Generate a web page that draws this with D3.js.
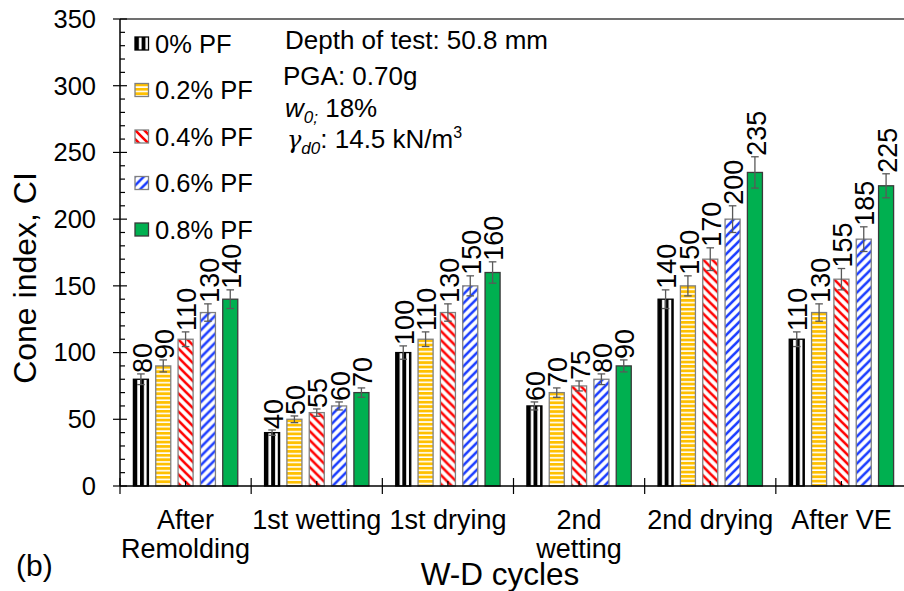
<!DOCTYPE html>
<html><head><meta charset="utf-8">
<script src="https://cdn.jsdelivr.net/npm/d3@7"></script>
<style>
html,body{margin:0;padding:0;background:#fff;}
text{font-family:"Liberation Sans",Arial,sans-serif;}
</style></head>
<body><svg id="c" width="904" height="591"></svg>
<script>
const categories = [["After","Remolding"],["1st wetting"],["1st drying"],["2nd","wetting"],["2nd drying"],["After VE"]];
const seriesNames = ["0% PF","0.2% PF","0.4% PF","0.6% PF","0.8% PF"];
const v0  = [80, 40, 100, 60, 140, 110];
const v02 = [90, 50, 110, 70, 150, 130];
const v04 = [110, 55, 130, 75, 170, 155];
const v06 = [130, 60, 150, 80, 200, 185];
const v08 = [140, 70, 160, 90, 235, 225];
const e0  = [4, 2, 5, 3, 7, 5.5];
const e02 = [4.5, 2.5, 5.5, 3.5, 7.5, 6.5];
const e04 = [5.5, 2.75, 6.5, 3.75, 8.5, 8];
const e06 = [6.5, 3, 7.5, 4, 10, 9.25];
const e08 = [7, 3.5, 8, 4.5, 11.75, 9];
const yTicks = [0,50,100,150,200,250,300,350];

const values = [v0, v02, v04, v06, v08];
const errors = [e0, e02, e04, e06, e08];

const svg = d3.select("#c");
const defs = svg.append("defs");
const L = 120, R = 907, T = 19, B = 486;
const catKeys = categories.map((c,i)=>i);
const x0 = d3.scaleBand().domain(catKeys).range([L, R]).paddingInner(0).paddingOuter(0);
const x1 = d3.scaleBand().domain(d3.range(5)).range([0, x0.bandwidth()]).paddingInner(0.327).paddingOuter(0.6);
const y = d3.scaleLinear().domain([0, 350]).range([B, T]);

function makePattern(id, s, ox, oy) {
  let p;
  if (s === 0) {
    p = defs.append("pattern").attr("id", id).attr("patternUnits","userSpaceOnUse")
      .attr("x", ox).attr("y", 0).attr("width", 6.6).attr("height", 10);
    p.append("rect").attr("width", 6.6).attr("height", 10).attr("fill", "#fff");
    p.append("rect").attr("x", 0).attr("width", 3.9).attr("height", 10).attr("fill", "#000");
  } else if (s === 1) {
    p = defs.append("pattern").attr("id", id).attr("patternUnits","userSpaceOnUse")
      .attr("x", 0).attr("y", oy).attr("width", 10).attr("height", 4.4);
    p.append("rect").attr("width", 10).attr("height", 4.4).attr("fill", "#fff");
    p.append("rect").attr("y", 0).attr("width", 10).attr("height", 2.8).attr("fill", "#FFC000");
  } else if (s === 2) {
    p = defs.append("pattern").attr("id", id).attr("patternUnits","userSpaceOnUse")
      .attr("x", ox).attr("y", oy).attr("width", 9).attr("height", 9);
    p.append("rect").attr("width", 9).attr("height", 9).attr("fill", "#fff");
    p.append("path").attr("d", "M-3,-3L12,12M-3,6L3,12M6,-3L12,3").attr("stroke", "#FF0000").attr("stroke-width", 2.6).attr("fill","none");
  } else if (s === 3) {
    p = defs.append("pattern").attr("id", id).attr("patternUnits","userSpaceOnUse")
      .attr("x", ox).attr("y", oy).attr("width", 9).attr("height", 9);
    p.append("rect").attr("width", 9).attr("height", 9).attr("fill", "#fff");
    p.append("path").attr("d", "M-3,12L12,-3M-3,3L3,-3M6,12L12,6").attr("stroke", "#1A3CFF").attr("stroke-width", 2.6).attr("fill","none");
  }
  return "url(#" + id + ")";
}
const strokes = ["#000", "#808080", "#808080", "#808080", "#3a3a3a"];
function fillFor(s, id, ox, oy) {
  if (s === 4) return "#00B050";
  return makePattern(id, s, ox, oy);
}

svg.append("line").attr("x1", L).attr("x2", 904).attr("y1", T).attr("y2", T)
  .attr("stroke", "#404040").attr("stroke-width", 1.5);

const g = svg.append("g");
catKeys.forEach(ci => {
  d3.range(5).forEach(s => {
    const v = values[s][ci], e = errors[s][ci];
    const bx = x0(ci) + x1(s), bw = x1.bandwidth();
    const by = y(v);
    const f = fillFor(s, "p" + s + "_" + ci, bx, by);
    g.append("rect").attr("x", bx).attr("y", by).attr("width", bw).attr("height", B - by)
      .attr("fill", f).attr("stroke", strokes[s]).attr("stroke-width", 1.3);
    const cx = bx + bw / 2;
    g.append("line").attr("x1", cx).attr("x2", cx).attr("y1", y(v + e)).attr("y2", y(v - e))
      .attr("stroke", "#595959").attr("stroke-width", 1.3);
    [v + e, v - e].forEach(t => {
      g.append("line").attr("x1", cx - 3.8).attr("x2", cx + 3.8).attr("y1", y(t)).attr("y2", y(t))
        .attr("stroke", "#595959").attr("stroke-width", 1.3);
    });
    g.append("text").attr("transform", `translate(${cx + 1},${y(v + e) - 1}) rotate(-90)`)
      .attr("dy", "0.36em").attr("font-size", 27).attr("fill", "#000").text(v);
  });
});

const yAxis = svg.append("g");
yAxis.append("line").attr("x1", L).attr("x2", L).attr("y1", T).attr("y2", B).attr("stroke", "#000").attr("stroke-width", 1.5);
d3.range(0, 351, 10).forEach(t => {
  const major = yTicks.includes(t);
  yAxis.append("line").attr("x1", major ? L - 7 : L).attr("x2", L + (major ? 7 : 5))
    .attr("y1", y(t)).attr("y2", y(t)).attr("stroke", "#000").attr("stroke-width", 1.2);
});
yTicks.forEach(t => {
  yAxis.append("text").attr("x", 96).attr("y", y(t)).attr("dy", "0.35em").attr("text-anchor", "end")
    .attr("font-size", 25.5).text(t);
});

const xAxis = svg.append("g");
xAxis.append("line").attr("x1", L).attr("x2", 904).attr("y1", B).attr("y2", B).attr("stroke", "#000").attr("stroke-width", 1.5);
catKeys.concat([6]).forEach(i => {
  const xx = i < 6 ? x0(i) : R;
  xAxis.append("line").attr("x1", xx).attr("x2", xx).attr("y1", B - 8).attr("y2", B + 8).attr("stroke", "#000").attr("stroke-width", 1.2);
});
catKeys.forEach(i => {
  const cx = x0(i) + x0.bandwidth() / 2;
  xAxis.append("line").attr("x1", cx).attr("x2", cx).attr("y1", B - 5).attr("y2", B).attr("stroke", "#000").attr("stroke-width", 1.2);
  categories[i].forEach((ln, k) => {
    xAxis.append("text").attr("x", cx).attr("y", 529 + k * 29).attr("text-anchor", "middle")
      .attr("font-size", 27).text(ln);
  });
});

svg.append("text").attr("transform", "translate(36,278) rotate(-90)").attr("text-anchor", "middle")
  .attr("font-size", 32).text("Cone index, CI");
svg.append("text").attr("x", 500).attr("y", 585).attr("text-anchor", "middle")
  .attr("font-size", 31.5).text("W-D cycles");
svg.append("text").attr("x", 16).attr("y", 576).attr("font-size", 30).text("(b)");

const legCy = [43.5, 90, 136.5, 183, 229.5];
seriesNames.forEach((nm, s) => {
  const sx = 135, sy = legCy[s] - 6.5;
  const f = fillFor(s, "leg" + s, sx, sy);
  svg.append("rect").attr("x", sx).attr("y", sy).attr("width", 13.5).attr("height", 13)
    .attr("fill", f).attr("stroke", strokes[s]).attr("stroke-width", 1.3);
  svg.append("text").attr("x", 155).attr("y", legCy[s] + 9).attr("font-size", 25.5).text(nm);
});

const ann = svg.append("g").attr("font-size", 26);
ann.append("text").attr("x", 285).attr("y", 49).text("Depth of test: 50.8 mm");
ann.append("text").attr("x", 283).attr("y", 85).text("PGA: 0.70g");
const t3 = ann.append("text").attr("x", 285).attr("y", 117);
t3.append("tspan").attr("font-style", "italic").text("w");
t3.append("tspan").attr("font-style", "italic").attr("font-size", 17).attr("dy", 6).text("0;");
t3.append("tspan").attr("dy", -6).text(" 18%");
const t4 = ann.append("text").attr("x", 287).attr("y", 148);
t4.append("tspan").attr("font-style", "italic").attr("font-family", "DejaVu Serif").attr("font-size", 24).text("γ");
t4.append("tspan").attr("font-style", "italic").attr("font-size", 17).attr("dy", 6).text("d0");
t4.append("tspan").attr("dy", -6).text(": 14.5 kN/m");
t4.append("tspan").attr("font-size", 16).attr("dy", -10).text("3");
</script></body></html>
